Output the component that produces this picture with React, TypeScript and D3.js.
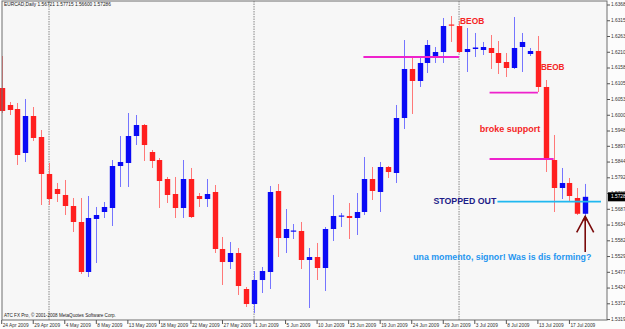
import React from "react";
import * as d3 from "d3";

const WIDTH = 625;
const HEIGHT = 329;
const PLOT = { left: 2, top: 1, right: 607, bottom: 320 };

// daily bars (MT4 broker with Sunday bars)
const dates = [
  "2009-04-24", "2009-04-26", "2009-04-27", "2009-04-28", "2009-04-29", "2009-04-30",
  "2009-05-01", "2009-05-03", "2009-05-04", "2009-05-05", "2009-05-06", "2009-05-07", "2009-05-08",
  "2009-05-10", "2009-05-11", "2009-05-12", "2009-05-13", "2009-05-14", "2009-05-15",
  "2009-05-17", "2009-05-18", "2009-05-19", "2009-05-20", "2009-05-21", "2009-05-22",
  "2009-05-24", "2009-05-25", "2009-05-26", "2009-05-27", "2009-05-28", "2009-05-29", "2009-05-31",
  "2009-06-01", "2009-06-02", "2009-06-03", "2009-06-04", "2009-06-05",
  "2009-06-07", "2009-06-08", "2009-06-09", "2009-06-10", "2009-06-11", "2009-06-12",
  "2009-06-14", "2009-06-15", "2009-06-16", "2009-06-17", "2009-06-18", "2009-06-19",
  "2009-06-21", "2009-06-22", "2009-06-23", "2009-06-24", "2009-06-25", "2009-06-26",
  "2009-06-28", "2009-06-29", "2009-06-30", "2009-07-01", "2009-07-02", "2009-07-03",
  "2009-07-05", "2009-07-06", "2009-07-07", "2009-07-08", "2009-07-09", "2009-07-10",
  "2009-07-12", "2009-07-13", "2009-07-14", "2009-07-15", "2009-07-16", "2009-07-17",
  "2009-07-19", "2009-07-20",
];

const opens = [
  1.60913, 1.60347, 1.60213, 1.58747, 1.5998, 1.5928,
  1.58047, 1.57547, 1.57347, 1.5698, 1.56447, 1.5478, 1.56547,
  1.5678, 1.56913, 1.58313, 1.58413, 1.59313, 1.5968,
  1.5878, 1.58513, 1.5788, 1.5738, 1.56913, 1.5788,
  1.57313, 1.57213, 1.57447, 1.55547, 1.55113, 1.55413, 1.54213,
  1.53713, 1.54513, 1.5478, 1.5748, 1.55913,
  1.5613, 1.56147, 1.5518, 1.5528, 1.54913, 1.56213,
  1.5663, 1.56647, 1.5658, 1.5678, 1.5788, 1.57447,
  1.5828, 1.5808, 1.59913, 1.61547, 1.61147, 1.61747,
  1.61947, 1.62113, 1.6303, 1.6298, 1.62113, 1.62213,
  1.6218, 1.62247, 1.6208, 1.6178, 1.6158, 1.6228,
  1.62047, 1.62147, 1.60947, 1.58513, 1.5758, 1.57747,
  1.57247, 1.56721,
];

const highs = [
  1.6198, 1.60447, 1.60413, 1.60547, 1.6028, 1.59513,
  1.58413, 1.57747, 1.57847, 1.57247, 1.57247, 1.57313, 1.56947,
  1.57113, 1.58513, 1.59313, 1.6008, 1.60013, 1.59713,
  1.58847, 1.5858, 1.57947, 1.57947, 1.58513, 1.58247,
  1.57413, 1.5788, 1.5768, 1.55947, 1.5578, 1.5558, 1.5428,
  1.54813, 1.54947, 1.57647, 1.57713, 1.5688,
  1.5638, 1.56447, 1.5558, 1.55747, 1.5628, 1.57347,
  1.56747, 1.5708, 1.57413, 1.58613, 1.5828, 1.58447,
  1.58313, 1.60347, 1.62513, 1.61913, 1.61913, 1.62513,
  1.6228, 1.63247, 1.63313, 1.63147, 1.62913, 1.62747,
  1.62447, 1.6268, 1.6248, 1.6208, 1.6328, 1.62747,
  1.62247, 1.62647, 1.6118, 1.59347, 1.58247, 1.57913,
  1.5758, 1.57715,
];

const lows = [
  1.6008, 1.60013, 1.58347, 1.58447, 1.59147, 1.57013,
  1.57013, 1.57113, 1.5668, 1.56113, 1.54713, 1.54613, 1.5508,
  1.5658, 1.56313, 1.57613, 1.57613, 1.59013, 1.5848,
  1.58247, 1.56913, 1.5708, 1.5658, 1.5658, 1.5658,
  1.56947, 1.56947, 1.55413, 1.54347, 1.5488, 1.54013, 1.53613,
  1.53413, 1.5408, 1.54213, 1.5528, 1.55413,
  1.5588, 1.5488, 1.5358, 1.54513, 1.54147, 1.55813,
  1.5628, 1.5588, 1.56013, 1.5668, 1.5718, 1.5678,
  1.57913, 1.57747, 1.59547, 1.60047, 1.60947, 1.61413,
  1.61747, 1.61747, 1.62447, 1.6208, 1.61447, 1.61947,
  1.62013, 1.61547, 1.6138, 1.6128, 1.61547, 1.61447,
  1.6198, 1.6078, 1.58113, 1.5678, 1.57213, 1.57113,
  1.5668, 1.566,
];

const closes = [
  1.60147, 1.6018, 1.5868, 1.5998, 1.59247, 1.58047,
  1.57213, 1.5738, 1.5698, 1.56447, 1.5478, 1.5658, 1.5668,
  1.56947, 1.58313, 1.58447, 1.59313, 1.5968, 1.59013,
  1.5848, 1.57813, 1.57347, 1.56913, 1.5788, 1.56613,
  1.57213, 1.5738, 1.55547, 1.55113, 1.55413, 1.54313, 1.53713,
  1.54513, 1.54813, 1.57447, 1.55913, 1.56213,
  1.56163, 1.5518, 1.5528, 1.54913, 1.56213, 1.56647,
  1.56663, 1.5658, 1.5678, 1.5788, 1.5748, 1.5828,
  1.58113, 1.59913, 1.61547, 1.61147, 1.61747, 1.62347,
  1.62113, 1.6298, 1.62997, 1.62113, 1.62213, 1.62263,
  1.6228, 1.6208, 1.61747, 1.6158, 1.62247, 1.62447,
  1.62147, 1.60947, 1.5858, 1.5758, 1.57747, 1.57313,
  1.56721, 1.57286,
];

const priceTicks = [
  "1.63680", "1.63155", "1.62630", "1.62105", "1.61580", "1.61055", "1.60530",
  "1.60005", "1.59480", "1.58970", "1.58445", "1.57920", "1.57395", "1.56870",
  "1.56345", "1.55820", "1.55295", "1.54770", "1.54245", "1.53720", "1.53195",
];

const dateTicks = [
  "2009-04-24", "2009-04-29", "2009-05-04", "2009-05-08", "2009-05-13", "2009-05-18",
  "2009-05-22", "2009-05-27", "2009-06-01", "2009-06-05", "2009-06-10", "2009-06-15",
  "2009-06-19", "2009-06-24", "2009-06-29", "2009-07-03", "2009-07-08", "2009-07-13",
  "2009-07-17",
];

const monthStarts = ["2009-05-01", "2009-06-01", "2009-07-01"];

// hand drawn horizontal lines
const levelFrom = ["2009-06-17", "2009-07-06", "2009-07-06"];
const levelTo = ["2009-07-01", "2009-07-13", "2009-07-15"];
const levelPrice = [1.61947, 1.60757, 1.58547];
const stopPrice = 1.57123;

const BULL = "#0a0af5";
const BEAR = "#ff1f1f";
const BULL_WICK = "#7575ff";
const BEAR_WICK = "#ff7878";

const parse = d3.timeParse("%Y-%m-%d");
const fmt = d3.timeFormat("%-d %b %Y");

export default function App() {
  const x = d3.scalePoint<string>().domain(dates).range([1.7, 585.2]);
  const y = d3.scaleLinear().domain([1.6368, 1.5318]).range([5, 320]);
  const step = x.step();
  const bodyW = 5.4;
  const last = dates[dates.length - 1];

  const candles = dates.map((d, i) => {
    const o = opens[i], c = closes[i];
    const up = c >= o;
    const cx = Math.round(x(d)!) + 0.5;
    const top = y(Math.max(o, c));
    const h = Math.max(1.2, y(Math.min(o, c)) - top);
    return (
      <g key={d}>
        <line x1={cx} x2={cx} y1={y(highs[i])} y2={y(lows[i])} stroke={up ? BULL_WICK : BEAR_WICK} strokeWidth={1} />
        <rect x={cx - bodyW / 2} y={top} width={bodyW} height={h} fill={up ? BULL : BEAR} />
      </g>
    );
  });

  const arrowX = x(last)!;
  const arrowTip = y(lows[lows.length - 1]) - 1;

  return (
    <svg width={WIDTH} height={HEIGHT} style={{ position: "fixed", left: 0, top: 0 }} fontFamily="'Liberation Sans', Arial, sans-serif">
      <rect x={0} y={0} width={WIDTH} height={HEIGHT} fill="#fcfcfc" />
      <rect x={PLOT.left} y={PLOT.top} width={PLOT.right - PLOT.left} height={PLOT.bottom - PLOT.top} fill="#f7f7f7" />

      {/* period separators */}
      {monthStarts.map((d) => (
        <line key={d} x1={x(d)} x2={x(d)} y1={PLOT.top} y2={PLOT.bottom} stroke="#9a9a9a" strokeWidth={1.2} strokeDasharray="1.5 1" />
      ))}

      <g>{candles}</g>

      {/* support / resistance lines */}
      {levelPrice.map((p, i) => (
        <line key={i} x1={x(levelFrom[i])! - 1} x2={x(levelTo[i])!} y1={y(p)} y2={y(p)} stroke="#ee22cc" strokeWidth={1.8} />
      ))}
      <line x1={x("2009-07-07")! - 1} x2={arrowX + 2 * step} y1={y(stopPrice)} y2={y(stopPrice)} stroke="#20b8f0" strokeWidth={1.8} />

      {/* arrow */}
      <g stroke="#7a0a0a" strokeWidth={1.6} fill="none">
        <line x1={arrowX} x2={arrowX} y1={y(1.55447)} y2={arrowTip} />
        <polyline points={`${arrowX - 8.5},${arrowTip + 16} ${arrowX},${arrowTip} ${arrowX + 8.5},${arrowTip + 16}`} />
      </g>
      <path d={`M${arrowX - 3},${arrowTip + 4} L${arrowX},${arrowTip - 1} L${arrowX + 3},${arrowTip + 4} Z`} fill="#7a0a0a" />

      {/* annotations */}
      <g fontWeight="bold" fontSize={9} dominantBaseline="middle">
        <text x={x("2009-07-01")! + 1} y={y(1.63113)} fill="#f52525" fontSize={8.4}>BEOB</text>
        <text x={x("2009-07-13")! + 3} y={y(1.6158)} fill="#f52525" fontSize={8.2}>BEOB</text>
        <text x={x("2009-07-05")! - 3} y={y(1.59513)} fill="#f52525">broke support</text>
        <text x={x("2009-06-28")! - 2} y={y(1.5711)} fill="#1c1c88" fontSize={8.8}>STOPPED OUT</text>
        <text x={x("2009-06-24")! + 1.5} y={y(1.55247)} fill="#2596f0" fontSize={8.8}>una momento, signor! Was is dis forming?</text>
      </g>

      {/* frame */}
      <rect x={PLOT.left} y={PLOT.top} width={PLOT.right - PLOT.left} height={PLOT.bottom - PLOT.top} fill="none" stroke="#6e6e6e" strokeWidth={1} />

      {/* price axis */}
      <g fontSize={4.8} fill="#333">
        {priceTicks.map((t) => (
          <g key={t}>
            <line x1={PLOT.right} x2={PLOT.right + 3} y1={y(+t)} y2={y(+t)} stroke="#555" />
            <text x={PLOT.right + 4} y={y(+t)} dominantBaseline="middle">{t}</text>
          </g>
        ))}
        <rect x={PLOT.right + 1} y={y(closes[closes.length - 1]) - 4.5} width={WIDTH - PLOT.right} height={9} fill="#000" />
        <text x={PLOT.right + 4} y={y(closes[closes.length - 1])} dominantBaseline="middle" fill="#fff">
          {closes[closes.length - 1].toFixed(5)}
        </text>
      </g>

      {/* time axis */}
      <g fontSize={4.8} fill="#333">
        {dateTicks.map((d) => (
          <g key={d}>
            <line x1={x(d)} x2={x(d)} y1={PLOT.bottom} y2={PLOT.bottom + 4} stroke="#555" />
            <text x={x(d)! + 1} y={PLOT.bottom + 6} dominantBaseline="middle">{fmt(parse(d)!)}</text>
          </g>
        ))}
      </g>

      <text x={4} y={6} fontSize={4.8} fill="#222">EURCAD,Daily  1.56721 1.57715 1.56600 1.57286</text>
      <text x={4} y={317} fontSize={4.6} fill="#222">ATC FX Pro, © 2001-2008 MetaQuotes Software Corp.</text>
    </svg>
  );
}
